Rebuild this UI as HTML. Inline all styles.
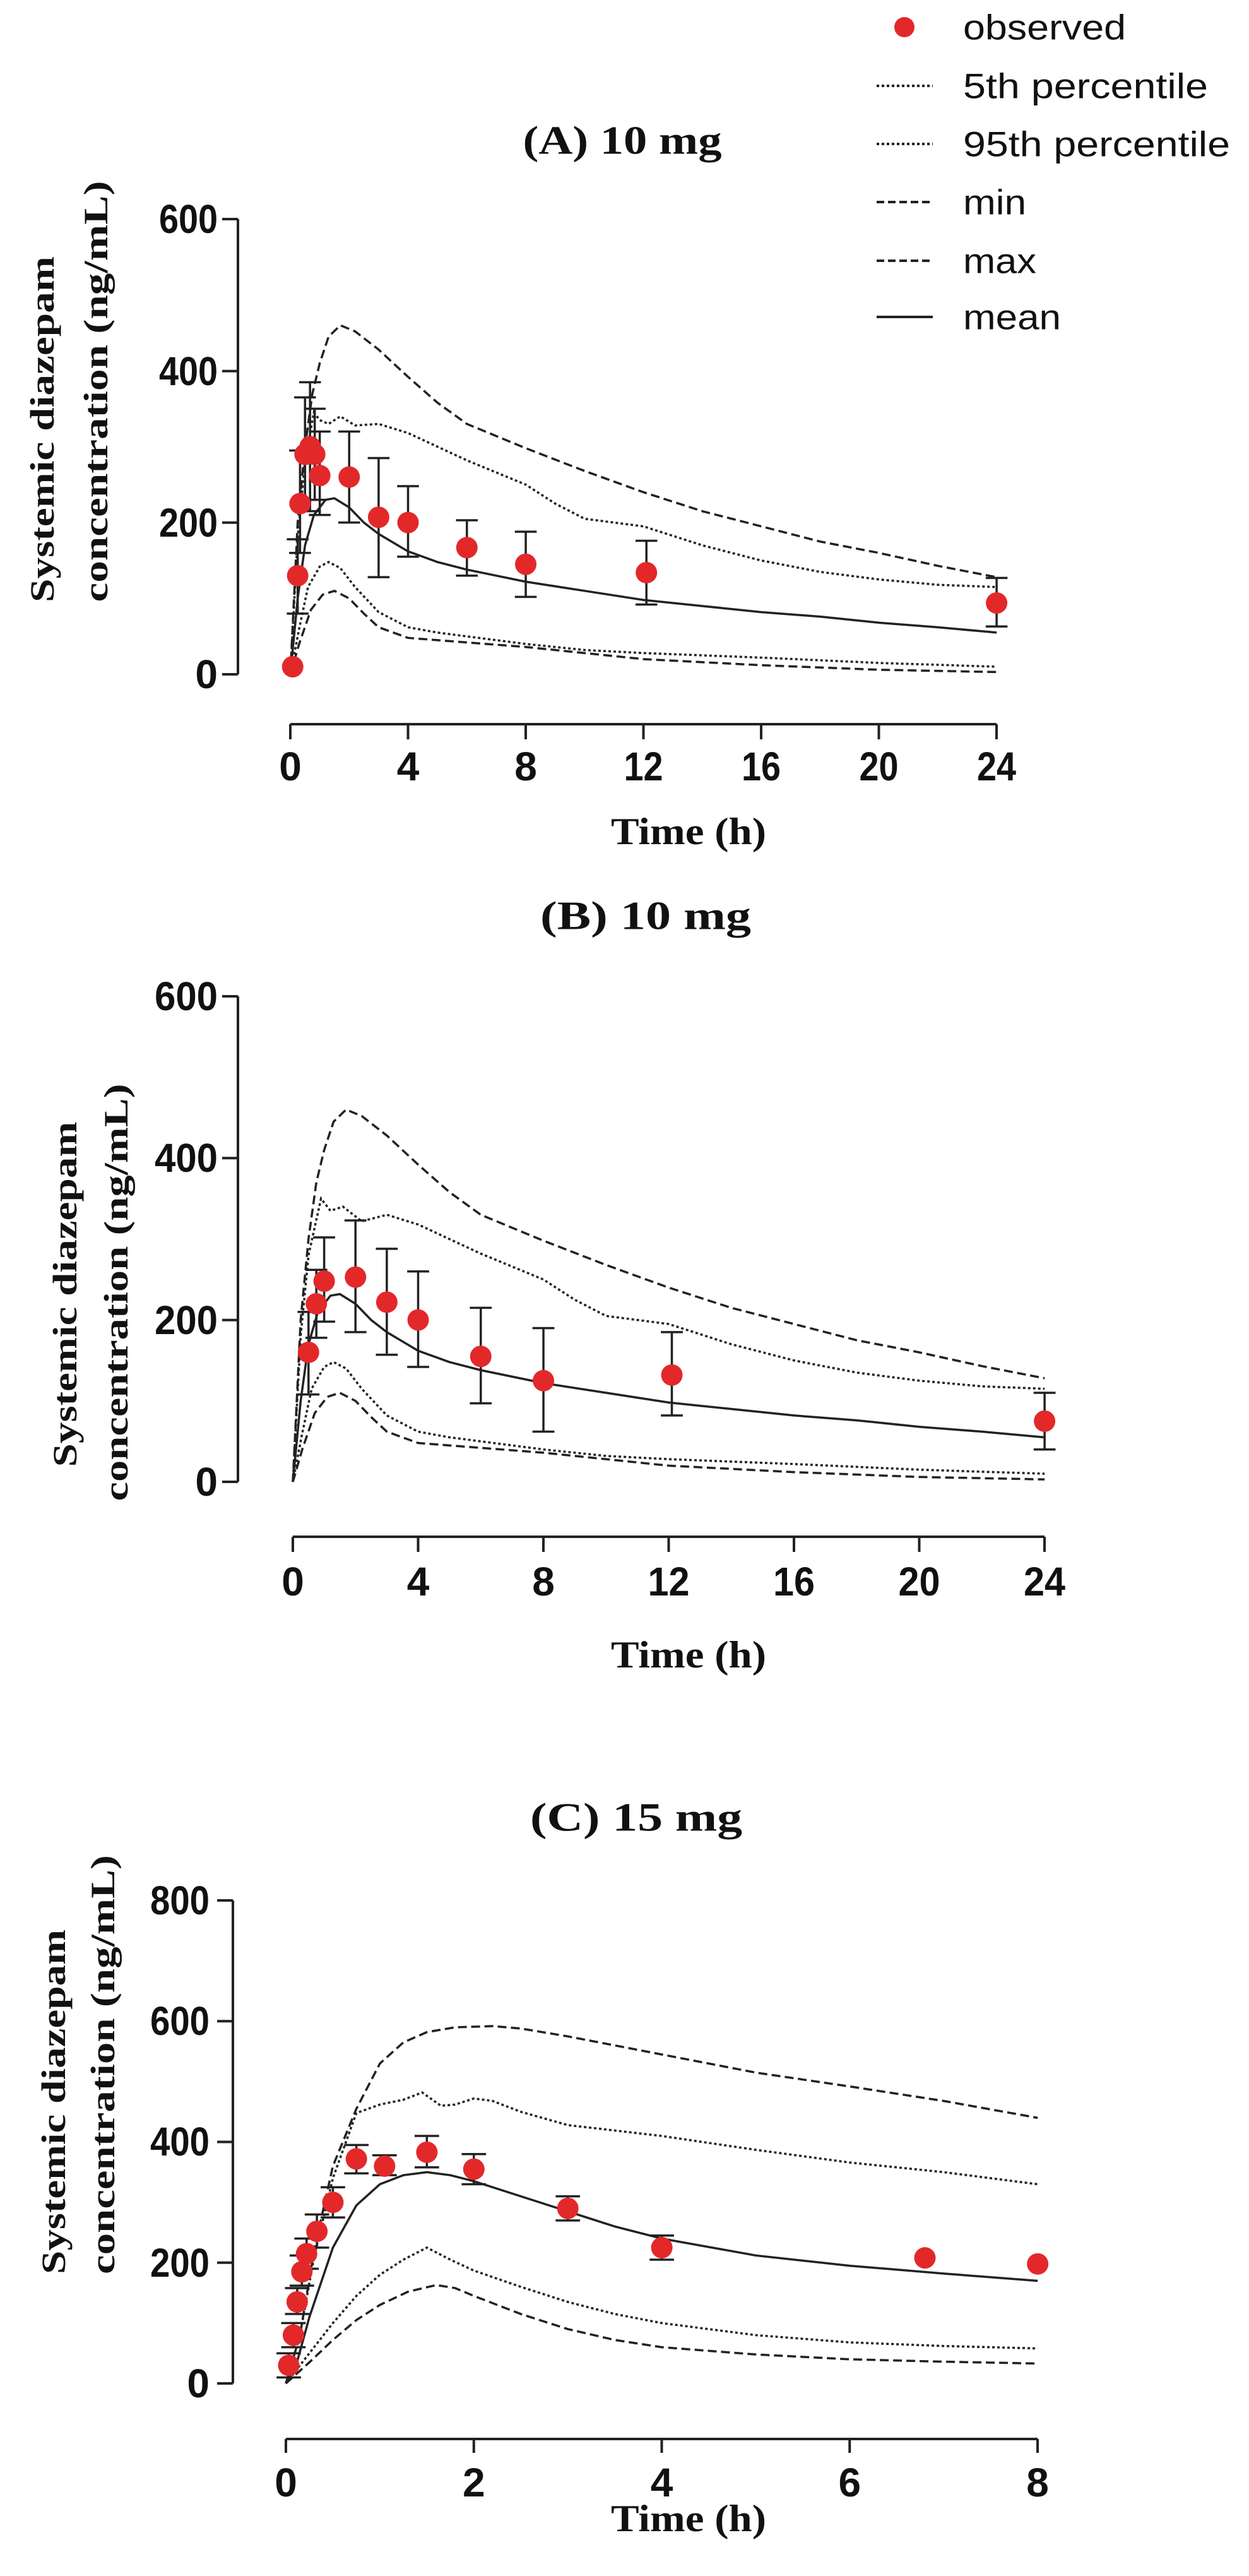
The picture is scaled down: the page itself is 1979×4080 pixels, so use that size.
<!DOCTYPE html>
<html><head><meta charset="utf-8"><style>
html,body{margin:0;padding:0;background:#fff;}
svg{display:block;}
.tk{font-family:"Liberation Sans",sans-serif;font-weight:bold;font-size:64px;fill:#111;}
.ttl{font-family:"Liberation Serif",serif;font-weight:bold;font-size:64px;fill:#111;}
.yl{font-family:"Liberation Serif",serif;font-weight:bold;font-size:54px;fill:#111;}
.lg{font-family:"Liberation Sans",sans-serif;font-size:56px;fill:#111;}
.ax{stroke:#222;stroke-width:4;fill:none;}
.c{fill:none;stroke:#222;stroke-width:3.5;vector-effect:non-scaling-stroke;}
.mx{stroke-dasharray:14 7;}
.pc{stroke-dasharray:4 4;}
.eb{stroke:#222;stroke-width:3.5;fill:none;vector-effect:non-scaling-stroke;}
.dot{stroke:#e3282a;stroke-width:34;stroke-linecap:round;vector-effect:non-scaling-stroke;fill:none;}
</style></head><body>
<svg width="1979" height="4080" viewBox="0 0 1979 4080" xmlns="http://www.w3.org/2000/svg">
<!-- Legend -->
<circle cx="1433" cy="43" r="16" fill="#e3282a"/>
<line x1="1389" y1="136" x2="1478" y2="136" stroke="#222" stroke-width="4" stroke-dasharray="4 4"/>
<line x1="1389" y1="228" x2="1478" y2="228" stroke="#222" stroke-width="4" stroke-dasharray="4 4"/>
<line x1="1389" y1="320" x2="1478" y2="320" stroke="#222" stroke-width="4" stroke-dasharray="12 6"/>
<line x1="1389" y1="413" x2="1478" y2="413" stroke="#222" stroke-width="4" stroke-dasharray="12 6"/>
<line x1="1389" y1="502" x2="1478" y2="502" stroke="#222" stroke-width="4"/>
<g class="lg" dominant-baseline="central">
<text x="1526" y="43" textLength="258" lengthAdjust="spacingAndGlyphs">observed</text>
<text x="1526" y="136" textLength="388" lengthAdjust="spacingAndGlyphs">5th percentile</text>
<text x="1526" y="228" textLength="423" lengthAdjust="spacingAndGlyphs">95th percentile</text>
<text x="1526" y="320" textLength="100" lengthAdjust="spacingAndGlyphs">min</text>
<text x="1526" y="413" textLength="116" lengthAdjust="spacingAndGlyphs">max</text>
<text x="1526" y="502" textLength="155" lengthAdjust="spacingAndGlyphs">mean</text>
</g>

<!-- ============ Panel A ============ -->
<text class="ttl" x="986" y="222" text-anchor="middle" dominant-baseline="central" textLength="315" lengthAdjust="spacingAndGlyphs">(A) 10 mg</text>
<text class="yl" transform="translate(67,680) rotate(-90)" text-anchor="middle" dominant-baseline="central" textLength="548" lengthAdjust="spacingAndGlyphs">Systemic diazepam</text>
<text class="yl" transform="translate(152,620) rotate(-90)" text-anchor="middle" dominant-baseline="central" textLength="667" lengthAdjust="spacingAndGlyphs">concentration (ng/mL)</text>
<path class="ax" d="M377 347V1068 M352 347H377 M352 587.7H377 M352 827.7H377 M352 1068H377"/>
<g class="tk" text-anchor="end" dominant-baseline="central">
<text x="345" y="347" textLength="93" lengthAdjust="spacingAndGlyphs">600</text>
<text x="345" y="588" textLength="93" lengthAdjust="spacingAndGlyphs">400</text>
<text x="345" y="828" textLength="93" lengthAdjust="spacingAndGlyphs">200</text>
<text x="345" y="1068">0</text>
</g>
<path class="ax" d="M460 1147H1579 M460 1147v24 M646.5 1147v24 M833 1147v24 M1019.5 1147v24 M1206 1147v24 M1392.5 1147v24 M1579 1147v24"/>
<g class="tk" text-anchor="middle" dominant-baseline="central">
<text x="460" y="1214">0</text><text x="646.5" y="1214">4</text><text x="833" y="1214">8</text>
<text x="1019.5" y="1214" textLength="62" lengthAdjust="spacingAndGlyphs">12</text>
<text x="1206" y="1214" textLength="62" lengthAdjust="spacingAndGlyphs">16</text>
<text x="1392.5" y="1214" textLength="62" lengthAdjust="spacingAndGlyphs">20</text>
<text x="1579" y="1214" textLength="62" lengthAdjust="spacingAndGlyphs">24</text>
</g>
<text class="ttl" x="1091" y="1317" text-anchor="middle" dominant-baseline="central" textLength="246" lengthAdjust="spacingAndGlyphs" style="font-size:60px">Time (h)</text>
<g transform="translate(460,1068) scale(46.63,-1.2017)">
<path class="c mx" d="M0 0L0.25 200L0.5 300L0.75 370L1 410L1.3 445L1.7 460L2.2 452L3 428L4 392L5 358L6 330L8 298L10 268L12 240L14 215L16 195L18 175L20 160L22 143L24 128"/>
<path class="c pc" d="M0 0L0.25 180L0.5 280L0.8 345L1 335L1.3 330L1.7 340L2.2 328L3 330L4 318L5 300L6 282L8 250L9 225L10 205L12 195L14 170L16 150L18 135L20 125L22 118L24 115"/>
<path class="c" d="M0 0L0.25 100L0.5 170L0.8 210L1.2 230L1.5 232L2 220L2.5 200L3 185L4 162L5 148L6 138L8 122L10 110L12 98L14 90L16 82L18 76L20 68L22 62L24 55"/>
<path class="c pc" d="M0 0L0.3 60L0.6 115L1 142L1.3 148L1.7 140L2.2 115L3 82L4 62L5 55L6 50L8 40L10 32L12 28L16 22L20 15L24 10"/>
<path class="c mx" d="M0 0L0.3 40L0.7 85L1.1 105L1.5 110L2 100L2.5 80L3 62L4 48L6 42L8 36L10 28L12 20L16 12L20 6L24 3"/>
<path class="eb" d="M0.25 80V178M-0.12 80H0.62M-0.12 178H0.62
M0.33 160V295M-0.04 160H0.7M-0.04 295H0.7
M0.5 215V365M0.13 215H0.87M0.13 365H0.87
M0.67 215V385M0.3 215H1.04M0.3 385H1.04
M0.83 230V350M0.46 230H1.2M0.46 350H1.2
M1 210V320M0.63 210H1.37M0.63 320H1.37
M2 200V320M1.63 200H2.37M1.63 320H2.37
M3 128V285M2.63 128H3.37M2.63 285H3.37
M4 155V248M3.63 155H4.37M3.63 248H4.37
M6 130V203M5.63 130H6.37M5.63 203H6.37
M8 102V188M7.63 102H8.37M7.63 188H8.37
M12.1 92V176M11.73 92H12.47M11.73 176H12.47
M24 63V127M23.63 63H24.37M23.63 127H24.37"/>
<path class="dot" d="M0.08 10h0M0.25 130h0M0.33 225h0M0.5 290h0M0.67 300h0M0.83 290h0M1 262h0M2 260h0M3 207h0M4 200h0M6 167h0M8 145h0M12.1 134h0M24 94h0"/>
</g>

<!-- ============ Panel B ============ -->
<text class="ttl" x="1023" y="1450" text-anchor="middle" dominant-baseline="central" textLength="334" lengthAdjust="spacingAndGlyphs">(B) 10 mg</text>
<text class="yl" transform="translate(103,2050) rotate(-90)" text-anchor="middle" dominant-baseline="central" textLength="547" lengthAdjust="spacingAndGlyphs">Systemic diazepam</text>
<text class="yl" transform="translate(184,2047) rotate(-90)" text-anchor="middle" dominant-baseline="central" textLength="661" lengthAdjust="spacingAndGlyphs">concentration (ng/mL)</text>
<path class="ax" d="M377 1578V2347 M352 1578H377 M352 1834.3H377 M352 2090.7H377 M352 2347H377"/>
<g class="tk" text-anchor="end" dominant-baseline="central">
<text x="345" y="1578" textLength="100" lengthAdjust="spacingAndGlyphs">600</text>
<text x="345" y="1834" textLength="100" lengthAdjust="spacingAndGlyphs">400</text>
<text x="345" y="2091" textLength="100" lengthAdjust="spacingAndGlyphs">200</text>
<text x="345" y="2347">0</text>
</g>
<path class="ax" d="M464 2434H1655 M464 2434v24 M662.5 2434v24 M861 2434v24 M1059.5 2434v24 M1258 2434v24 M1456.5 2434v24 M1655 2434v24"/>
<g class="tk" text-anchor="middle" dominant-baseline="central">
<text x="464" y="2505">0</text><text x="662.5" y="2505">4</text><text x="861" y="2505">8</text>
<text x="1059.5" y="2505" textLength="66" lengthAdjust="spacingAndGlyphs">12</text>
<text x="1258" y="2505" textLength="66" lengthAdjust="spacingAndGlyphs">16</text>
<text x="1456.5" y="2505" textLength="66" lengthAdjust="spacingAndGlyphs">20</text>
<text x="1655" y="2505" textLength="66" lengthAdjust="spacingAndGlyphs">24</text>
</g>
<text class="ttl" x="1091" y="2621" text-anchor="middle" dominant-baseline="central" textLength="246" lengthAdjust="spacingAndGlyphs" style="font-size:60px">Time (h)</text>
<g transform="translate(464,2347) scale(49.63,-1.2817)">
<path class="c mx" d="M0 0L0.25 200L0.5 300L0.75 370L1 410L1.3 445L1.7 460L2.2 452L3 428L4 392L5 358L6 330L8 298L10 268L12 240L14 215L16 195L18 175L20 160L22 143L24 128"/>
<path class="c pc" d="M0 0L0.25 180L0.5 280L0.9 350L1.2 335L1.6 340L2.2 322L3 330L4 318L5 300L6 282L8 250L9 225L10 205L12 195L14 170L16 150L18 135L20 125L22 118L24 115"/>
<path class="c" d="M0 0L0.25 100L0.5 170L0.8 210L1.2 230L1.5 232L2 220L2.5 200L3 185L4 162L5 148L6 138L8 122L10 110L12 98L14 90L16 82L18 76L20 68L22 62L24 55"/>
<path class="c pc" d="M0 0L0.3 60L0.6 115L1 142L1.3 148L1.7 140L2.2 115L3 82L4 62L5 55L6 50L8 40L10 32L12 28L16 22L20 15L24 10"/>
<path class="c mx" d="M0 0L0.3 40L0.7 85L1.1 105L1.5 110L2 100L2.5 80L3 62L4 48L6 42L8 36L10 28L12 20L16 12L20 6L24 3"/>
<path class="eb" d="M0.5 108V210M0.15 108H0.85M0.15 210H0.85
M0.75 178V262M0.4 178H1.1M0.4 262H1.1
M1 198V302M0.65 198H1.35M0.65 302H1.35
M2 185V323M1.65 185H2.35M1.65 323H2.35
M3 157V288M2.65 157H3.35M2.65 288H3.35
M4 142V260M3.65 142H4.35M3.65 260H4.35
M6 97V215M5.65 97H6.35M5.65 215H6.35
M8 62V190M7.65 62H8.35M7.65 190H8.35
M12.1 82V185M11.75 82H12.45M11.75 185H12.45
M24 40V110M23.65 40H24.35M23.65 110H24.35"/>
<path class="dot" d="M0.5 160h0M0.75 220h0M1 248h0M2 253h0M3 222h0M4 200h0M6 155h0M8 125h0M12.1 132h0M24 75h0"/>
</g>

<!-- ============ Panel C ============ -->
<text class="ttl" x="1008" y="2878" text-anchor="middle" dominant-baseline="central" textLength="336" lengthAdjust="spacingAndGlyphs">(C) 15 mg</text>
<text class="yl" transform="translate(85,3329) rotate(-90)" text-anchor="middle" dominant-baseline="central" textLength="546" lengthAdjust="spacingAndGlyphs">Systemic diazepam</text>
<text class="yl" transform="translate(163,3270) rotate(-90)" text-anchor="middle" dominant-baseline="central" textLength="664" lengthAdjust="spacingAndGlyphs">concentration (ng/mL)</text>
<path class="ax" d="M369 3010V3775 M344 3010H369 M344 3201.3H369 M344 3392.5H369 M344 3583.8H369 M344 3775H369"/>
<g class="tk" text-anchor="end" dominant-baseline="central">
<text x="332" y="3010" textLength="94" lengthAdjust="spacingAndGlyphs">800</text>
<text x="332" y="3201" textLength="94" lengthAdjust="spacingAndGlyphs">600</text>
<text x="332" y="3392" textLength="94" lengthAdjust="spacingAndGlyphs">400</text>
<text x="332" y="3584" textLength="94" lengthAdjust="spacingAndGlyphs">200</text>
<text x="332" y="3775">0</text>
</g>
<path class="ax" d="M453 3863H1644 M453 3863v22 M750.75 3863v22 M1048.5 3863v22 M1346.25 3863v22 M1644 3863v22"/>
<g class="tk" text-anchor="middle" dominant-baseline="central">
<text x="453" y="3932">0</text><text x="750.75" y="3932">2</text><text x="1048.5" y="3932">4</text>
<text x="1346.25" y="3932">6</text><text x="1644" y="3932">8</text>
</g>
<text class="ttl" x="1091" y="3989" text-anchor="middle" dominant-baseline="central" textLength="246" lengthAdjust="spacingAndGlyphs" style="font-size:60px">Time (h)</text>
<g transform="translate(453,3775) scale(148.9,-0.956)">
<path class="c mx" d="M0 0L0.15 80L0.3 220L0.5 360L0.75 455L1 530L1.25 565L1.5 582L1.8 590L2.2 592L2.5 588L3 575L3.5 560L4 545L5 515L6 492L7 468L8 440"/>
<path class="c pc" d="M0 0L0.15 80L0.3 210L0.5 340L0.75 448L1 462L1.25 470L1.45 482L1.65 460L1.8 462L2 472L2.2 468L2.5 450L3 428L4 410L5 387L6 366L7 350L8 330"/>
<path class="c" d="M0 0L0.1 25L0.25 110L0.5 225L0.75 295L1 330L1.25 345L1.5 350L1.75 345L2 335L2.5 310L3 285L3.5 260L4 240L5 212L6 195L7 182L8 170"/>
<path class="c pc" d="M0 0L0.25 50L0.5 100L0.75 145L1 180L1.25 205L1.5 225L1.75 205L2 187L2.5 160L3 135L3.5 115L4 100L5 80L6 68L7 62L8 58"/>
<path class="c mx" d="M0 0L0.25 35L0.5 72L0.75 105L1 130L1.3 152L1.6 163L1.8 158L2 145L2.5 115L3 90L3.5 72L4 60L5 48L6 40L7 36L8 33"/>
<path class="eb" d="M0.03 10V50M-0.1 10H0.16M-0.1 50H0.16
M0.08 60V100M-0.05 60H0.21M-0.05 100H0.21
M0.12 115V158M-0.01 115H0.25M-0.01 158H0.25
M0.17 162V212M0.04 162H0.3M0.04 212H0.3
M0.22 190V240M0.09 190H0.35M0.09 240H0.35
M0.33 225V280M0.2 225H0.46M0.2 280H0.46
M0.5 275V325M0.37 275H0.63M0.37 325H0.63
M0.75 348V395M0.62 348H0.88M0.62 395H0.88
M1.05 345V378M0.92 345H1.18M0.92 378H1.18
M1.5 358V410M1.37 358H1.63M1.37 410H1.63
M2 330V380M1.87 330H2.13M1.87 380H2.13
M3 270V310M2.87 270H3.13M2.87 310H3.13
M4 205V245M3.87 205H4.13M3.87 245H4.13"/>
<path class="dot" d="M0.03 30h0M0.08 80h0M0.12 135h0M0.17 185h0M0.22 215h0M0.33 252h0M0.5 300h0M0.75 372h0M1.05 360h0M1.5 383h0M2 355h0M3 290h0M4 225h0M6.8 208h0M8 198h0"/>
</g>
</svg>
</body></html>
